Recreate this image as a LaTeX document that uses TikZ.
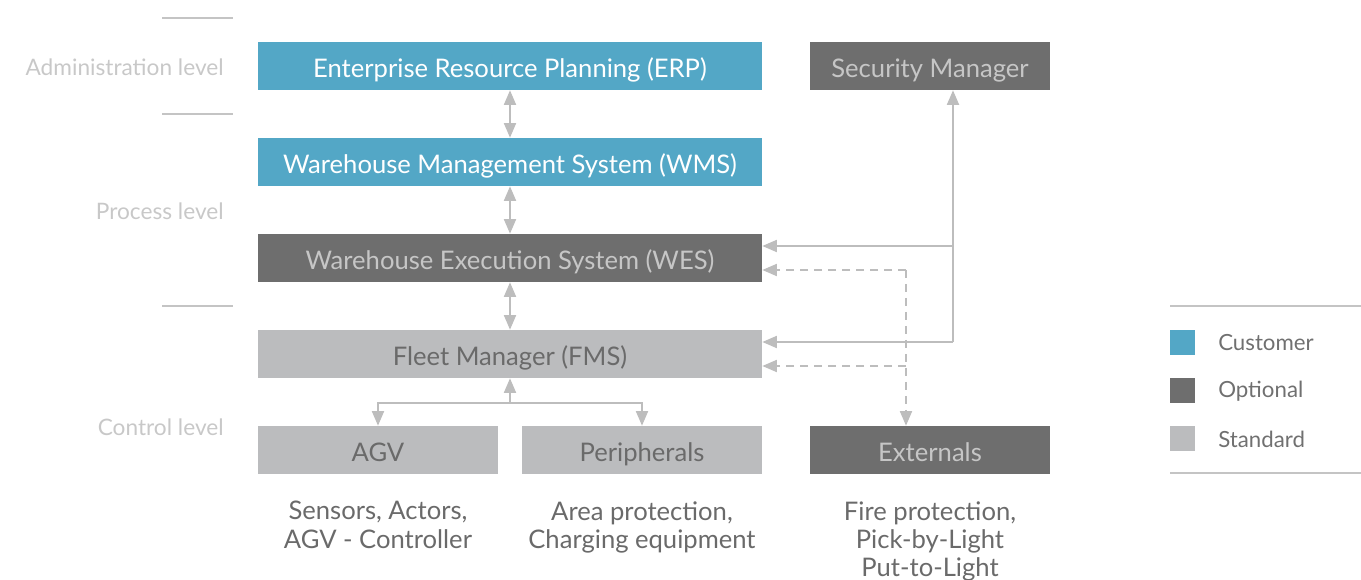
\documentclass[tikz,border=0pt]{standalone}
\usepackage{fontspec}
\setmainfont{Lato}
\usetikzlibrary{arrows.meta,positioning}

\begin{document}
\begin{tikzpicture}[x=0.75pt,y=-0.75pt,
    box/.style={minimum width=378pt, minimum height=36pt, inner sep=0pt, text height=20.7pt, text depth=3.8pt, font=\fontsize{19.2}{22}\selectfont},
    smallbox/.style={box, minimum width=180pt},
    level/.style={anchor=east, text=c_label, inner sep=0pt, font=\fontsize{17}{20}\selectfont},
    legend/.style={anchor=west, text=c_legend, inner sep=0pt, font=\fontsize{16.7}{20}\selectfont},
    note/.style={anchor=north, align=center, text=c_note, inner sep=0pt, font=\fontsize{19.2}{21.3}\selectfont},
    sep/.style={draw=c_line, line width=1.2pt},
    link/.style={draw=c_arrow, line width=1.5pt, -{Triangle[width=9pt,length=11pt]}},
    dbl/.style={link, {Triangle[width=9pt,length=11pt]}-{Triangle[width=9pt,length=11pt]}}
]
    \definecolor{c_blue}{HTML}{53A7C6}
    \definecolor{c_dark}{HTML}{6E6E6E}
    \definecolor{c_light}{HTML}{BBBCBE}
    \definecolor{c_label}{HTML}{C8C8C8}
    \definecolor{c_legend}{HTML}{707070}
    \definecolor{c_note}{HTML}{6A6A6A}
    \definecolor{c_line}{HTML}{C4C4C4}
    \definecolor{c_arrow}{HTML}{BDBDBD}
    \definecolor{c_pale}{HTML}{C6C6C6}
    %\draw[help lines] (0,0) grid (1361,580);
    \useasboundingbox (0,0) rectangle (1361,580);

    % levels
    \draw[sep] (162,18) -- (233,18);
    \draw[sep] (162,114) -- (233,114);
    \draw[sep] (162,306) -- (233,306);
    \node[level] (admin) at (224,67) {Administration level};
    \node[level] (process) at (224,211) {Process level};
    \node[level] (control) at (224,427) {Control level};

    % systems
    \node[box, fill=c_blue, text=white] (erp) at (510,66) {Enterprise Resource Planning (ERP)};
    \node[box, fill=c_blue, text=white] (wms) at (510,162) {Warehouse Management System (WMS)};
    \node[box, fill=c_dark, text=c_pale] (wes) at (510,258) {Warehouse Execution System (WES)};
    \node[box, fill=c_light, text=c_note] (fms) at (510,354) {Fleet Manager (FMS)};
    \node[smallbox, fill=c_light, text=c_note] (agv) at (378,450) {AGV};
    \node[smallbox, fill=c_light, text=c_note] (per) at (642,450) {Peripherals};
    \node[smallbox, fill=c_dark, text=c_pale] (ext) at (930,450) {Externals};
    \node[smallbox, fill=c_dark, text=c_pale] (sec) at (930,66) {Security Manager};

    \draw[dbl] (erp) -- (wms);
    \draw[dbl] (wms) -- (wes);
    \draw[dbl] (wes) -- (fms);

    \coordinate (fork) at (510,403);
    \draw[link] (fork) -- (fms.south);
    \draw[link] (fork) -| (agv.north);
    \draw[link] (fork) -| (per.north);

    \coordinate (secfms) at (953,342);
    \coordinate (secwes) at (953,246);
    \draw[link] (secfms) -- (sec.south -| secfms);
    \draw[link] (secfms) -- (fms.east |- secfms);
    \draw[link] (secwes) -- (wes.east |- secwes);

    \coordinate (extwes) at (906,270);
    \coordinate (extfms) at (906,366);
    \draw[link, dash pattern=on 6pt off 4.5pt] (extwes) -- (ext.north -| extwes);
    \draw[link, dash pattern=on 6pt off 4.5pt] (extwes) -- (wes.east |- extwes);
    \draw[link, dash pattern=on 6pt off 4.5pt] (extfms) -- (fms.east |- extfms);

    % notes
    \node[note] (agvnote) at (378,501) {Sensors, Actors,\\AGV - Controller};
    \node[note] (pernote) at (642,501) {Area protection,\\Charging equipment};
    \node[note] (extnote) at (930,501) {Fire protection,\\Pick-by-Light\\Put-to-Light};

    % legend
    \draw[sep] (1170,306) -- (1361,306);
    \draw[sep] (1170,473) -- (1361,473);
    \fill[c_blue] (1170,330) rectangle (1195,355);
    \fill[c_dark] (1170,378) rectangle (1195,403);
    \fill[c_light] (1170,426) rectangle (1195,451);
    \node[legend] (customer) at (1218,343) {Customer};
    \node[legend] (optional) at (1218,391) {Optional};
    \node[legend] (standard) at (1218,439) {Standard};
\end{tikzpicture}
\end{document}
